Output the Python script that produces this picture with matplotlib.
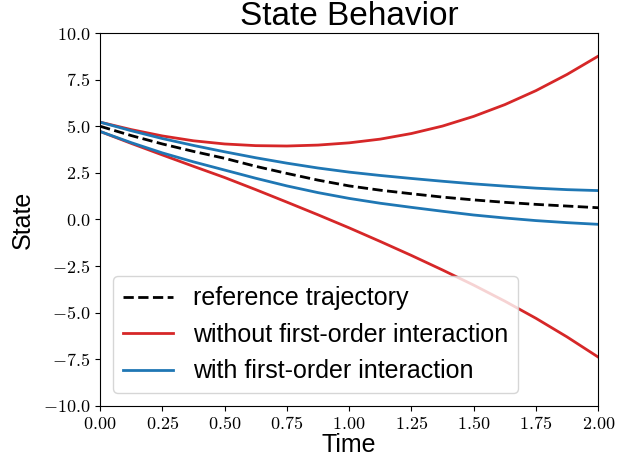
import matplotlib
matplotlib.use("Agg")
import matplotlib.pyplot as plt
from matplotlib.ticker import FuncFormatter

time = [0.0, 0.125, 0.25, 0.375, 0.5, 0.625, 0.75, 0.875, 1.0,
        1.125, 1.25, 1.375, 1.5, 1.625, 1.75, 1.875, 2.0]
reference = [5.0, 4.5, 4.05, 3.65, 3.28, 2.85, 2.47, 2.11, 1.80,
             1.57, 1.38, 1.20, 1.05, 0.92, 0.81, 0.72, 0.63]
without_upper = [5.22, 4.82, 4.48, 4.22, 4.05, 3.96, 3.94, 3.99, 4.11,
                 4.31, 4.61, 5.01, 5.53, 6.16, 6.91, 7.78, 8.76]
without_lower = [4.72, 4.08, 3.46, 2.85, 2.25, 1.60, 0.93, 0.25, -0.45,
                 -1.18, -1.93, -2.71, -3.52, -4.38, -5.30, -6.30, -7.38]
with_upper = [5.22, 4.76, 4.34, 3.97, 3.63, 3.31, 3.02, 2.76, 2.54,
              2.36, 2.20, 2.05, 1.91, 1.79, 1.68, 1.60, 1.55]
with_lower = [4.72, 4.12, 3.57, 3.09, 2.65, 2.21, 1.80, 1.44, 1.13,
              0.87, 0.65, 0.44, 0.24, 0.08, -0.06, -0.17, -0.26]

plt.rcParams['font.family'] = ['Liberation Sans', 'DejaVu Sans']
plt.rcParams['mathtext.fontset'] = 'cm'

fig = plt.figure(figsize=(6.18, 4.65), dpi=100)
ax = fig.add_axes([0.162, 0.127, 0.806, 0.802])

ax.plot(time, reference, color='black', linestyle='--', linewidth=2,
        label='reference trajectory')
ax.plot(time, without_upper, color='tab:red', linewidth=2,
        label='without first-order interaction')
ax.plot(time, without_lower, color='tab:red', linewidth=2)
ax.plot(time, with_upper, color='tab:blue', linewidth=2,
        label='with first-order interaction')
ax.plot(time, with_lower, color='tab:blue', linewidth=2)

ax.set_xlim(0, 2)
ax.set_ylim(-10, 10)
ax.set_xticks([0, 0.25, 0.5, 0.75, 1.0, 1.25, 1.5, 1.75, 2.0])
ax.set_yticks([-10, -7.5, -5, -2.5, 0, 2.5, 5, 7.5, 10])
ax.xaxis.set_major_formatter(FuncFormatter(lambda v, p: f"${v:.2f}$"))
ax.yaxis.set_major_formatter(FuncFormatter(lambda v, p: f"${v:.1f}$"))
ax.tick_params(labelsize=13)

ax.set_title('State Behavior', fontsize=24, pad=6)
ax.set_xlabel('Time', fontsize=18, labelpad=0)
ax.set_ylabel('State', fontsize=18, labelpad=6)
ax.legend(loc='lower left', fontsize=18)

fig.savefig('out.png', dpi=100)
